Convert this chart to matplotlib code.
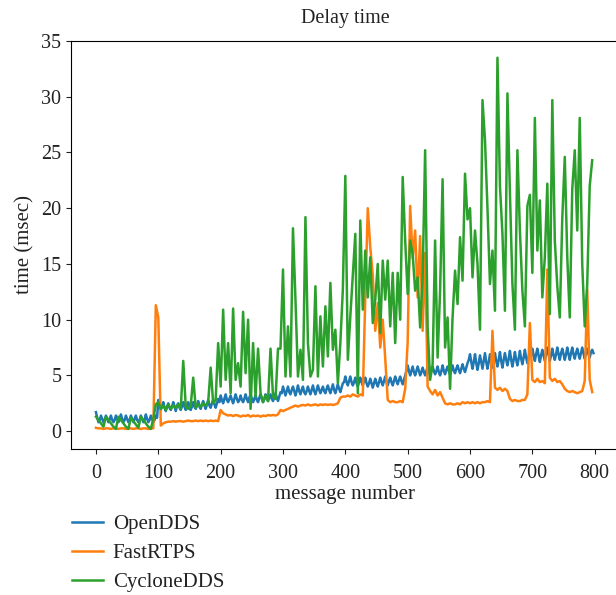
import numpy as np
import matplotlib
matplotlib.use("Agg")
import matplotlib.pyplot as plt

# OpenDDS is read every 2 messages, the others every 4
msg_open = np.arange(0, 800, 2)
msg = np.arange(0, 800, 4)

opendds = [
    1.7, 1.2, 0.8, 1.0, 1.4, 1.1, 0.8, 1.0, 1.4, 1.1, 0.8, 1.1, 1.4, 1.0, 0.8, 1.0, 1.4, 1.1, 0.8, 1.0, 1.5, 1.1, 0.8, 1.0, 1.4,
    1.1, 0.8, 1.0, 1.4, 1.1, 0.8, 1.1, 1.4, 1.0, 0.8, 1.0, 1.4, 1.1, 0.8, 1.0, 1.5, 1.1, 0.8, 1.0, 1.4, 1.1, 0.8, 1.0, 1.4, 1.2,
    2.8, 2.2, 1.9, 2.3, 2.6, 2.1, 1.8, 2.2, 2.5, 2.1, 1.9, 2.2, 2.6, 2.2, 1.8, 2.3, 2.5, 2.1, 1.9, 2.2, 2.6, 2.2, 1.9, 2.3, 2.6,
    2.1, 1.9, 2.2, 2.6, 2.2, 2.0, 2.3, 2.7, 2.2, 2.0, 2.4, 2.7, 2.3, 2.0, 2.4, 2.8, 2.3, 2.1, 2.5, 2.8, 2.4, 2.1, 2.5, 2.9, 2.6,
    3.2, 2.8, 2.5, 2.9, 3.3, 2.8, 2.6, 2.9, 3.2, 2.8, 2.5, 2.9, 3.3, 2.9, 2.6, 2.8, 3.2, 2.8, 2.6, 2.9, 3.3, 2.9, 2.6, 3.0, 3.3,
    2.9, 2.6, 2.9, 3.2, 2.8, 2.6, 3.0, 3.3, 2.9, 2.6, 2.9, 3.3, 2.9, 2.7, 3.0, 3.3, 2.9, 2.7, 3.0, 3.4, 3.0, 2.7, 3.1, 3.5, 3.4,
    4.0, 3.6, 3.2, 3.6, 4.0, 3.5, 3.3, 3.7, 4.0, 3.6, 3.2, 3.6, 4.1, 3.6, 3.3, 3.7, 4.0, 3.5, 3.3, 3.6, 4.0, 3.6, 3.3, 3.7, 4.1,
    3.6, 3.3, 3.7, 4.1, 3.7, 3.4, 3.7, 4.0, 3.6, 3.4, 3.8, 4.1, 3.7, 3.4, 3.8, 4.2, 3.7, 3.4, 3.8, 4.2, 3.8, 3.5, 3.9, 4.3, 4.4,
    4.9, 4.4, 4.1, 4.5, 4.9, 4.4, 4.1, 4.4, 4.8, 4.3, 4.0, 4.4, 4.8, 4.4, 4.1, 4.5, 4.8, 4.3, 4.0, 4.3, 4.7, 4.3, 3.9, 4.3, 4.7,
    4.3, 4.0, 4.4, 4.8, 4.4, 4.1, 4.5, 4.9, 4.4, 4.1, 4.5, 4.8, 4.4, 4.1, 4.5, 4.9, 4.5, 4.2, 4.6, 4.9, 4.5, 4.2, 4.6, 5.0, 5.4,
    5.9, 5.4, 5.0, 5.4, 5.8, 5.3, 5.0, 5.4, 5.8, 5.4, 5.0, 5.3, 5.7, 5.3, 5.0, 5.4, 5.8, 5.3, 5.0, 5.4, 5.8, 5.4, 5.1, 5.4, 5.8,
    5.3, 5.0, 5.4, 5.9, 5.4, 5.1, 5.5, 5.8, 5.4, 5.1, 5.5, 5.9, 5.4, 5.2, 5.6, 5.9, 5.5, 5.2, 5.6, 6.0, 5.6, 5.3, 5.7, 6.1, 6.4,
    6.9, 6.2, 5.6, 6.2, 6.9, 6.1, 5.5, 6.1, 6.8, 6.2, 5.6, 6.3, 7.0, 6.2, 5.6, 6.2, 6.9, 6.3, 5.7, 6.3, 7.0, 6.3, 5.8, 6.4, 7.1,
    6.3, 5.7, 6.4, 7.0, 6.4, 5.9, 6.5, 7.2, 6.4, 5.8, 6.4, 7.1, 6.4, 5.9, 6.5, 7.2, 6.5, 6.0, 6.6, 7.3, 6.6, 6.1, 6.6, 7.3, 6.8,
    7.4, 6.8, 6.3, 6.9, 7.4, 6.8, 6.2, 6.8, 7.3, 6.8, 6.3, 6.9, 7.5, 6.9, 6.3, 6.8, 7.4, 6.8, 6.4, 6.9, 7.5, 6.9, 6.4, 7.0, 7.4,
    6.9, 6.4, 6.9, 7.5, 6.9, 6.4, 7.0, 7.5, 6.9, 6.5, 7.0, 7.4, 6.9, 6.5, 7.0, 7.5, 7.0, 6.5, 7.0, 7.4, 6.9, 6.6, 7.1, 7.3, 7.0,
]

fastrtps = [
    0.3, 0.25, 0.25, 0.2, 0.25, 0.25, 0.2, 0.25, 0.25, 0.2, 0.25, 0.25, 0.2, 0.25, 0.25, 0.2, 0.25, 0.25, 0.2, 0.25, 0.25, 0.2, 0.25, 0.25, 11.3,
    10.2, 0.5, 0.7, 0.8, 0.85, 0.85, 0.9, 0.85, 0.9, 0.9, 0.85, 0.9, 0.95, 0.9, 0.9, 0.95, 0.9, 0.95, 0.9, 0.95, 0.9, 0.95, 0.9, 0.95, 0.9,
    1.9, 1.6, 1.5, 1.4, 1.45, 1.35, 1.45, 1.4, 1.3, 1.4, 1.35, 1.45, 1.3, 1.4, 1.35, 1.4, 1.3, 1.4, 1.35, 1.45, 1.4, 1.45, 1.4, 1.5, 1.9,
    1.8, 1.9, 2.0, 2.1, 2.2, 2.3, 2.2, 2.3, 2.35, 2.3, 2.4, 2.3, 2.35, 2.4, 2.3, 2.4, 2.35, 2.4, 2.35, 2.4, 2.35, 2.4, 2.5, 3.0, 3.1,
    3.1, 3.2, 3.1, 3.3, 3.2, 3.1, 3.3, 3.2, 12.0, 20.0, 16.5, 14.0, 9.0, 11.5, 7.5, 10.0, 6.5, 2.8, 2.6, 2.7, 2.6, 2.6, 2.7, 2.6, 3.8,
    8.0, 20.2, 15.5, 18.0, 12.0, 17.5, 9.0, 16.0, 4.0, 3.6, 3.3, 3.7, 3.2, 3.5, 3.0, 2.5, 2.4, 2.5, 2.4, 2.4, 2.5, 2.4, 2.6, 2.5, 2.6,
    2.5, 2.6, 2.5, 2.6, 2.5, 2.6, 2.6, 2.7, 2.6, 9.0, 3.9, 3.7, 3.9, 3.6, 3.8, 3.6, 2.9, 2.7, 2.8, 2.7, 2.7, 2.8, 2.8, 3.3, 9.7,
    4.6, 4.4, 4.7, 4.4, 4.5, 4.3, 14.5, 4.8, 4.5, 4.7, 4.4, 4.5, 4.2, 3.8, 3.6, 3.5, 3.6, 3.5, 3.4, 3.5, 3.6, 4.5, 12.7, 4.6, 3.5,
]

cyclonedds = [
    1.3, 1.0, 0.7, 0.4, 1.3, 1.0, 0.7, 0.4, 0.2, 1.3, 1.0, 0.7, 0.4, 0.2, 1.2, 0.9, 0.6, 0.3, 1.3, 1.0, 0.7, 0.4, 0.2, 1.1, 2.4,
    2.6, 2.0, 2.3, 1.9, 2.4, 2.0, 2.3, 2.1, 2.4, 2.0, 6.3, 2.2, 2.0, 2.3, 4.8, 2.1, 2.4, 2.2, 2.5, 2.3, 2.6, 5.7, 2.5, 2.8, 7.9,
    4.0, 10.9, 4.6, 7.9, 3.4, 11.0, 4.6, 6.1, 4.0, 10.7, 5.2, 10.0, 2.0, 7.9, 3.1, 7.4, 3.4, 2.6, 3.2, 2.7, 7.4, 3.1, 2.9, 7.4, 7.4,
    14.5, 4.9, 9.4, 4.9, 18.2, 11.8, 4.9, 7.3, 4.6, 19.2, 7.9, 4.9, 5.5, 13.0, 4.9, 10.3, 5.8, 11.2, 6.7, 13.3, 7.3, 9.1, 4.3, 7.9, 12.7,
    22.9, 6.4, 10.3, 14.0, 17.7, 3.4, 18.9, 10.9, 16.2, 12.0, 15.6, 9.7, 11.8, 15.0, 8.8, 15.3, 11.8, 15.3, 9.4, 14.2, 7.9, 14.2, 10.0, 22.8, 17.1,
    12.3, 17.1, 15.9, 12.6, 13.8, 9.3, 13.8, 25.2, 9.3, 4.6, 6.0, 17.1, 6.6, 12.6, 22.6, 7.5, 10.2, 3.8, 10.2, 14.4, 11.4, 17.4, 13.5, 23.1, 19.0,
    20.0, 13.8, 18.0, 15.0, 9.1, 29.7, 26.1, 20.0, 13.2, 16.2, 10.8, 33.5, 22.0, 17.7, 10.8, 30.3, 21.4, 13.2, 9.1, 25.2, 18.0, 12.6, 9.4, 20.2, 21.2,
    14.2, 28.1, 16.2, 20.7, 12.0, 15.6, 22.2, 10.5, 29.7, 17.1, 13.0, 10.2, 19.1, 24.6, 15.6, 10.2, 21.7, 25.2, 18.0, 28.1, 15.0, 9.4, 13.2, 22.0, 24.3,
]

plt.rcParams["font.family"] = ["Liberation Serif", "DejaVu Serif"]
plt.rcParams["font.size"] = 14.5
plt.rcParams["text.color"] = "#222222"
plt.rcParams["axes.labelcolor"] = "#222222"
plt.rcParams["xtick.color"] = "#222222"
plt.rcParams["ytick.color"] = "#222222"

fig = plt.figure(figsize=(6.16, 5.95), dpi=100)
ax = fig.add_axes([0.1153, 0.2454, 0.8896, 0.6857])

ax.plot(msg_open, opendds, color="#1f77b4", lw=1.8, label="OpenDDS")
ax.plot(msg, fastrtps, color="#ff7f0e", lw=1.8, label="FastRTPS")
ax.plot(msg, cyclonedds, color="#2ca02c", lw=1.8, label="CycloneDDS")

ax.set_xlim(-40, 839)
ax.set_ylim(-1.6, 35)
ax.set_xticks(range(0, 801, 100))
ax.set_yticks(range(0, 36, 5))
ax.tick_params(axis="x", pad=7)
ax.set_title("Delay time", fontsize=14.5, pad=13)
ax.set_xlabel("message number", fontsize=15, labelpad=2)
ax.set_ylabel("time (msec)", fontsize=15, labelpad=5)

ax.legend(loc="upper left", bbox_to_anchor=(0.117, 0.135), bbox_transform=fig.transFigure,
          frameon=False, borderaxespad=0, borderpad=0, handlelength=1.5,
          handletextpad=0.45, labelspacing=0.45, fontsize=15)

fig.savefig("out.png", dpi=100)
